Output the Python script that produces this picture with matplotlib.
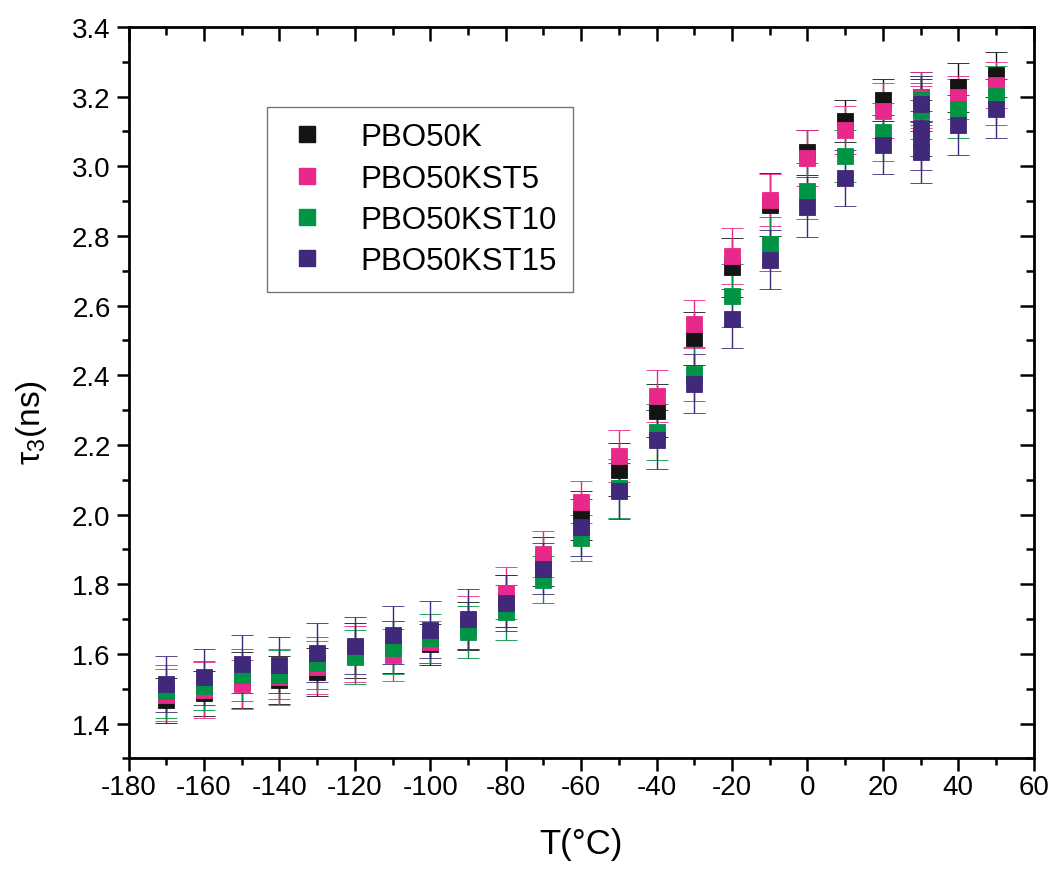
import matplotlib
matplotlib.use('Agg')
import matplotlib.pyplot as plt
from matplotlib.lines import Line2D

plt.rcParams['font.family'] = ['Liberation Sans', 'DejaVu Sans']
plt.rcParams['axes.unicode_minus'] = False
plt.rcParams['mathtext.fontset'] = 'custom'
plt.rcParams['mathtext.rm'] = 'Liberation Sans'
plt.rcParams['mathtext.it'] = 'Liberation Sans'

# ---- data (T in °C, tau3 in ns, error in ns) ----
labels = ['PBO50K', 'PBO50KST5', 'PBO50KST10', 'PBO50KST15']
colors = ['#141414', '#E8288A', '#009444', '#40287A']

t_base = [-170, -160, -150, -140, -130, -120, -110, -100, -90, -80, -70,
          -60, -50, -40, -30, -20, -10, 0, 10, 20, 30, 40, 50]

# PBO50K
t_k = t_base + [30]
tau_k = [1.467, 1.487, 1.525, 1.525, 1.548, 1.610, 1.620, 1.627, 1.680, 1.752, 1.865,
         1.997, 2.129, 2.298, 2.506, 2.710, 2.890, 3.040, 3.131, 3.191, 3.200, 3.227, 3.263,
         3.190]
err_k = [0.065, 0.065, 0.080, 0.070, 0.070, 0.080, 0.075, 0.060, 0.070, 0.075, 0.070,
         0.070, 0.076, 0.076, 0.076, 0.085, 0.090, 0.065, 0.060, 0.060, 0.070, 0.070, 0.065,
         0.060]

# PBO50KST5
t_5 = t_base + [30]
tau_5 = [1.481, 1.497, 1.513, 1.534, 1.561, 1.600, 1.597, 1.635, 1.690, 1.774, 1.887,
         2.035, 2.169, 2.340, 2.547, 2.743, 2.904, 3.024, 3.104, 3.160, 3.200, 3.198, 3.233,
         3.170]
err_5 = [0.075, 0.080, 0.070, 0.080, 0.075, 0.080, 0.075, 0.060, 0.076, 0.075, 0.065,
         0.060, 0.075, 0.075, 0.068, 0.080, 0.075, 0.080, 0.070, 0.078, 0.070, 0.062, 0.066,
         0.060]

# PBO50KST10
t_10 = t_base + [30]
tau_10 = [1.492, 1.509, 1.539, 1.540, 1.574, 1.591, 1.618, 1.645, 1.662, 1.719, 1.813,
          1.933, 2.075, 2.238, 2.403, 2.629, 2.777, 2.930, 3.030, 3.099, 3.190, 3.165, 3.203,
          3.158]
err_10 = [0.075, 0.070, 0.075, 0.070, 0.075, 0.078, 0.075, 0.070, 0.075, 0.078, 0.067,
          0.065, 0.085, 0.080, 0.078, 0.090, 0.078, 0.080, 0.075, 0.084, 0.070, 0.085, 0.085,
          0.080]

# PBO50KST15
t_15 = t_base + [30, 30, 30]
tau_15 = [1.513, 1.534, 1.571, 1.567, 1.603, 1.624, 1.654, 1.669, 1.700, 1.746, 1.844,
          1.963, 2.068, 2.215, 2.376, 2.562, 2.732, 2.884, 2.967, 3.062, 3.180, 3.119, 3.165,
          3.110, 3.075, 3.040]
err_15 = [0.080, 0.080, 0.083, 0.080, 0.085, 0.082, 0.082, 0.082, 0.086, 0.080, 0.073,
          0.083, 0.080, 0.085, 0.085, 0.085, 0.084, 0.086, 0.081, 0.084, 0.080, 0.086, 0.085,
          0.080, 0.085, 0.088]

series = [(t_k, tau_k, err_k), (t_5, tau_5, err_5),
          (t_10, tau_10, err_10), (t_15, tau_15, err_15)]

x_major = list(range(-180, 61, 20))
x_minor = list(range(-170, 60, 20))
y_major = [1.4, 1.6, 1.8, 2.0, 2.2, 2.4, 2.6, 2.8, 3.0, 3.2, 3.4]
y_minor = [1.3, 1.5, 1.7, 1.9, 2.1, 2.3, 2.5, 2.7, 2.9, 3.1, 3.3]

fig = plt.figure(figsize=(10.5, 8.7), dpi=100)
ax = fig.add_axes([0.1225, 0.1272, 0.862, 0.8406])

handles = []
for (t, tau, err), lab, col in zip(series, labels, colors):
    ax.errorbar(t, tau, yerr=err, fmt='s', color=col, ecolor=col,
                markersize=11.5, markeredgewidth=0.6, markeredgecolor=col,
                elinewidth=1.0, capsize=8, capthick=1.0)
    handles.append(Line2D([], [], ls='none', marker='s', color=col,
                          markersize=11, label=lab))

ax.set_xlim(-180, 60)
ax.set_ylim(1.3, 3.4)
ax.set_xticks(x_major)
ax.set_xticks(x_minor, minor=True)
ax.set_yticks(y_major)
ax.set_yticks(y_minor, minor=True)
ax.set_yticklabels([f'{v:.1f}' for v in y_major])

for s in ax.spines.values():
    s.set_linewidth(2.0)
ax.tick_params(which='major', direction='out', length=9, width=1.8, labelsize=20, pad=4)
ax.tick_params(axis='x', which='major', pad=2)
ax.tick_params(which='minor', direction='out', length=5, width=1.8)

# inward ticks on top and right
top = ax.secondary_xaxis('top')
top.set_xticks(x_major)
top.set_xticks(x_minor, minor=True)
top.tick_params(which='major', direction='in', length=10, width=1.8, labeltop=False)
top.tick_params(which='minor', direction='in', length=6, width=1.8)
right = ax.secondary_yaxis('right')
right.set_yticks(y_major)
right.set_yticks(y_minor, minor=True)
right.tick_params(which='major', direction='in', length=10, width=1.8, labelright=False)
right.tick_params(which='minor', direction='in', length=6, width=1.8)

ax.set_xlabel('T(°C)', fontsize=25, labelpad=20)
ax.set_ylabel('τ$_3$(ns)', fontsize=24)
ax.yaxis.set_label_coords(-0.088, 0.46)

leg = ax.legend(handles=handles, loc='upper left', bbox_to_anchor=(0.153, 0.891),
                borderaxespad=0, fontsize=22.5, frameon=True, fancybox=False,
                handletextpad=0.95, borderpad=0.5, labelspacing=0.36,
                handlelength=1.55)
leg.get_frame().set_edgecolor('#555555')
leg.get_frame().set_linewidth(1.0)

fig.savefig('out.png', dpi=100)
